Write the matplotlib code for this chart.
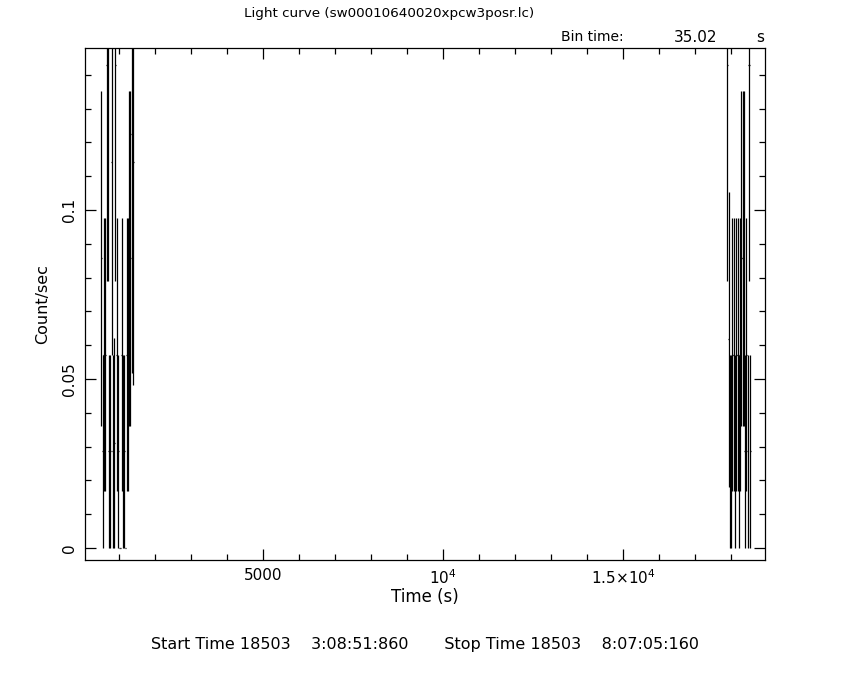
import numpy as np
import matplotlib.pyplot as plt
from matplotlib.ticker import MultipleLocator, FixedLocator, FixedFormatter

bin_time = 35.02

# first segment of the light curve
seg1_start = 508.0
seg1_counts = [3, 1, 2, 2, 5, 5, 1, 1, 4, 1, 1, 5, 2, 1, 0, 0, 2, 1, 1, 0, 2, 2, 3, 3, 3, 3]
seg1_frac = [1, 1, 1, 1, 1, 1, 1, 1, 1, 1, 0.92, 1, 1, 1, 1, 1, 1, 1, 1, 1, 1, 1, 1, 1, 0.7, 0.75]

# second segment
seg2_start = 17897.0
seg2_counts = [5, 2, 1, 1, 2, 2, 1, 2, 2, 1, 2, 3, 3, 3, 1, 2, 1, 5, 1]
seg2_frac = [1, 0.925, 1, 1, 1, 1, 1, 1, 1, 1, 1, 1, 1, 1, 1, 1, 1, 1, 1]

xticks = [5000, 10000, 15000]
xticklabels = ["5000", r"$10^4$", r"$1.5{\times}10^4$"]
yticks = [0, 0.05, 0.1]
yticklabels = ["0", "0.05", "0.1"]

plt.rcParams["font.family"] = "DejaVu Sans"
plt.rcParams["mathtext.fontset"] = "dejavusans"

t, rate, err = [], [], []
for start, counts, frac in [(seg1_start, seg1_counts, seg1_frac),
                            (seg2_start, seg2_counts, seg2_frac)]:
    c = np.array(counts, float)
    f = np.array(frac, float)
    t.append(start + bin_time * np.arange(len(c)))
    rate.append(c / (bin_time * f))
    err.append(np.sqrt(c) / (bin_time * f))
t = np.concatenate(t)
rate = np.concatenate(rate)
err = np.concatenate(err)

fig = plt.figure(figsize=(8.5, 6.8), dpi=100)
ax = fig.add_axes([85 / 850, 1 - 560 / 680, 680 / 850, 512 / 680])

lw = 0.9
ax.errorbar(t, rate, xerr=bin_time / 2, yerr=err, fmt="none",
            ecolor="black", elinewidth=lw, capsize=0)

ax.set_xlim(50, 18940)
ax.set_ylim(-0.00355, 0.1479)

ax.xaxis.set_major_locator(FixedLocator(xticks))
ax.xaxis.set_major_formatter(FixedFormatter(xticklabels))
ax.xaxis.set_minor_locator(MultipleLocator(1000))
ax.yaxis.set_major_locator(FixedLocator(yticks))
ax.yaxis.set_major_formatter(FixedFormatter(yticklabels))
ax.yaxis.set_minor_locator(MultipleLocator(0.01))

ax.tick_params(which="both", direction="in", top=True, right=True,
               width=lw, labelsize=11)
ax.tick_params(which="major", length=8, pad=6)
ax.tick_params(which="minor", length=4.5)
for lab in ax.get_yticklabels():
    lab.set_rotation(90)
    lab.set_va("center")
for s in ax.spines.values():
    s.set_linewidth(lw)

ax.set_xlabel("Time (s)", fontsize=12, labelpad=1)
ax.set_ylabel("Count/sec", fontsize=11.5, labelpad=8)

fig.text(389 / 850, 1 - 14 / 680, "Light curve (sw00010640020xpcw3posr.lc)",
         ha="center", va="center", fontsize=9.7)
fig.text(561 / 850, 1 - 37 / 680, "Bin time:", ha="left", va="center", fontsize=10)
fig.text(717 / 850, 1 - 37 / 680, "35.02", ha="right", va="center", fontsize=11)
fig.text(760 / 850, 1 - 37 / 680, "s", ha="center", va="center", fontsize=11)
fig.text(425 / 850, 1 - 645 / 680,
         "Start Time 18503    3:08:51:860       Stop Time 18503    8:07:05:160",
         ha="center", va="center", fontsize=11.5)

fig.savefig("out.png", dpi=100)
